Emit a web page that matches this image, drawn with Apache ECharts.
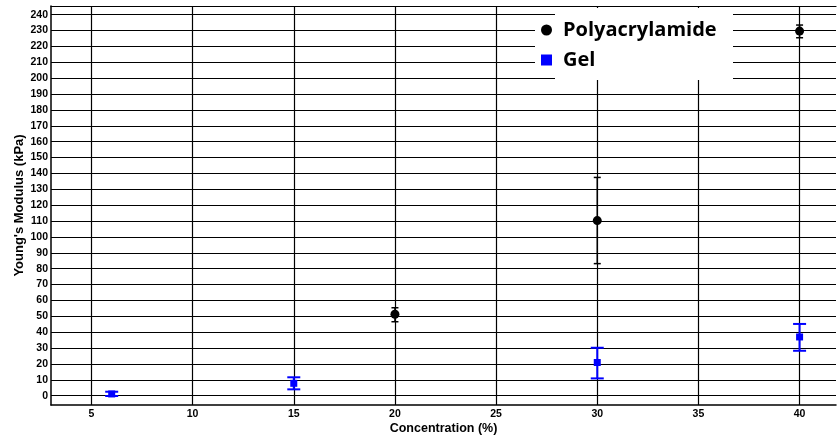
<!DOCTYPE html>
<html>
<head>
<meta charset="utf-8">
<script src="https://cdn.jsdelivr.net/npm/echarts@6/dist/echarts.min.js"></script>
<style>
html,body{margin:0;padding:0;background:#fff;}
#chart{width:838px;height:438px;}
</style>
</head>
<body>
<div id="chart"></div>
<script>
// Data
const concPA = [20, 30, 40];
const modPA = [51.3, 110.3, 229.7];
const lowPA = [46.6, 83.2, 225.5];
const highPA = [55.4, 137.5, 233.5];

const concGel = [6, 15, 30, 40];
const modGel = [1.1, 7.8, 20.9, 37.0];
const lowGel = [-0.2, 4.0, 10.9, 28.3];
const highGel = [2.5, 11.6, 30.2, 45.2];

const xTicks = [5, 10, 15, 20, 25, 30, 35, 40];
const yTicks = [0, 10, 20, 30, 40, 50, 60, 70, 80, 90, 100, 110, 120, 130, 140, 150, 160, 170, 180, 190, 200, 210, 220, 230, 240];

const seriesNames = ['Polyacrylamide', 'Gel'];

const chart = echarts.init(document.getElementById('chart'), null, {renderer: 'canvas'});

function errorBarRenderer(capHalf, color, lw) {
  return function (params, api) {
    const x = api.value(0);
    const lo = api.coord([x, api.value(1)]);
    const hi = api.coord([x, api.value(2)]);
    const style = {stroke: color, lineWidth: lw};
    return {
      type: 'group',
      children: [
        {type: 'line', shape: {x1: lo[0], y1: lo[1], x2: hi[0], y2: hi[1]}, style: style},
        {type: 'line', shape: {x1: lo[0] - capHalf, y1: lo[1], x2: lo[0] + capHalf, y2: lo[1]}, style: style},
        {type: 'line', shape: {x1: hi[0] - capHalf, y1: hi[1], x2: hi[0] + capHalf, y2: hi[1]}, style: style}
      ]
    };
  };
}

const labelFont = {fontFamily: 'Liberation Sans', fontWeight: 'bold', fontSize: 10.5, color: '#000'};

const option = {
  backgroundColor: '#fff',
  animation: false,
  grid: {left: 51, top: 6, right: 2, bottom: 33, containLabel: false, outerBoundsMode: 'none'},
  legend: {
    orient: 'vertical',
    left: 535,
    top: 17,
    backgroundColor: '#fff',
    padding: [3, 15, 6, 6],
    itemWidth: 11,
    itemHeight: 11,
    itemGap: 10,
    z: 10,
    data: [
      {name: seriesNames[0], icon: 'circle', itemStyle: {color: '#000', opacity: 1}},
      {name: seriesNames[1], icon: 'rect', itemStyle: {color: '#0000ff', opacity: 1}}
    ],
    textStyle: {fontFamily: 'Open Sans', fontWeight: 'bold', fontSize: 20, color: '#000', lineHeight: 20, padding: [0, 0, 0, 6]}
  },
  graphic: [
    {type: 'rect', z: 5, left: 555, top: 8, shape: {width: 178, height: 72}, style: {fill: '#fff'}}
  ],
  xAxis: [
    {
      type: 'value', min: 3, max: 41.8,
      name: 'Concentration (%)', nameLocation: 'middle', nameGap: 17, nameMoveOverlap: false,
      nameTextStyle: {fontFamily: 'Liberation Sans', fontWeight: 'bold', fontSize: 12.5, color: '#000'},
      axisLine: {show: true, onZero: false, lineStyle: {color: '#000', width: 1.5}},
      axisTick: {show: false, customValues: xTicks},
      axisLabel: {customValues: xTicks, margin: 4, ...labelFont},
      splitLine: {show: true, lineStyle: {color: '#000', width: 1.2}}
    },
    {
      type: 'value', min: 3, max: 41.8, position: 'top',
      axisLine: {show: true, onZero: false, lineStyle: {color: '#000', width: 1.2}},
      axisTick: {show: false}, axisLabel: {show: false}, splitLine: {show: false}
    }
  ],
  yAxis: {
    type: 'value', min: -5.86, max: 245.5,
    name: "Young's Modulus (kPa)", nameLocation: 'middle', nameGap: 25, nameMoveOverlap: false,
    nameTextStyle: {fontFamily: 'Liberation Sans', fontWeight: 'bold', fontSize: 13, color: '#000'},
    axisLine: {show: true, onZero: false, lineStyle: {color: '#000', width: 1.5}},
    axisTick: {show: false, customValues: yTicks},
    axisLabel: {customValues: yTicks, margin: 3, ...labelFont},
    splitLine: {show: true, lineStyle: {color: '#000', width: 1.2}}
  },
  series: [
    {
      name: seriesNames[0] + ' err', type: 'custom', z: 3,
      renderItem: errorBarRenderer(3.5, '#000', 1.5),
      data: concPA.map((x, i) => [x, lowPA[i], highPA[i]]),
      encode: {x: 0, y: [1, 2]}
    },
    {
      name: seriesNames[1] + ' err', type: 'custom', z: 3,
      renderItem: errorBarRenderer(6.5, '#0000ff', 2),
      data: concGel.map((x, i) => [x, lowGel[i], highGel[i]]),
      encode: {x: 0, y: [1, 2]}
    },
    {
      name: seriesNames[0], type: 'scatter', z: 4,
      symbol: 'circle', symbolSize: 9,
      itemStyle: {color: '#000', opacity: 1},
      data: concPA.map((x, i) => [x, modPA[i]])
    },
    {
      name: seriesNames[1], type: 'scatter', z: 4,
      symbol: 'rect', symbolSize: 7,
      itemStyle: {color: '#0000ff', opacity: 1},
      data: concGel.map((x, i) => [x, modGel[i]])
    }
  ]
};
chart.setOption(option);
</script>
</body>
</html>
